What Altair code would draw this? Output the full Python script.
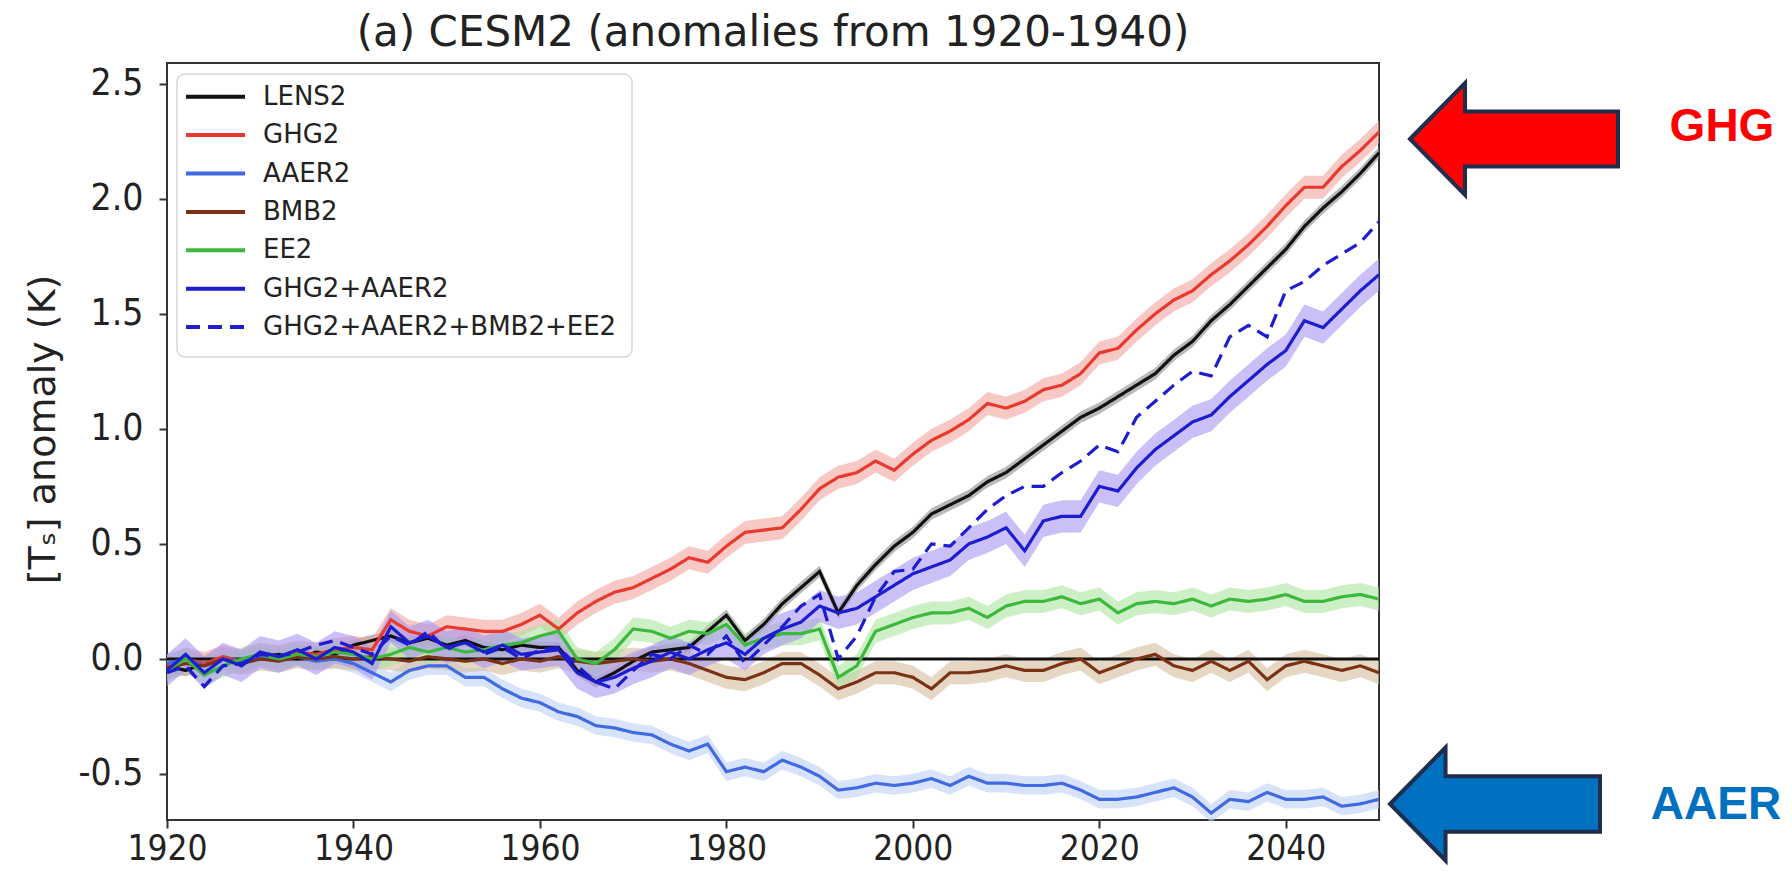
import altair as alt
import pandas as pd

years = list(range(1920, 2051, 2))

series_names = ["LENS2", "GHG2", "AAER2", "BMB2", "EE2", "GHG2+AAER2", "GHG2+AAER2+BMB2+EE2"]

lens2 = [-0.03, -0.05, -0.02, 0.0, -0.02, 0.01, 0.02, 0.0, 0.03, 0.02,
         0.06, 0.08, 0.10, 0.07, 0.09, 0.06, 0.08, 0.05, 0.04, 0.06,
         0.05, 0.05, -0.05, -0.10, -0.06, -0.01, 0.03, 0.04, 0.05, 0.12,
         0.19, 0.08, 0.15, 0.24, 0.31, 0.38, 0.20, 0.32, 0.41, 0.49,
         0.55, 0.63, 0.67, 0.71, 0.77, 0.81, 0.87, 0.93, 0.99, 1.05,
         1.09, 1.14, 1.19, 1.24, 1.32, 1.38, 1.47, 1.54, 1.62, 1.70,
         1.78, 1.88, 1.96, 2.03, 2.11, 2.20]
ghg2 = [-0.03, 0.0, -0.02, 0.01, -0.01, 0.02, 0.01, 0.03, 0.02, 0.04,
        0.05, 0.04, 0.17, 0.12, 0.10, 0.14, 0.13, 0.12, 0.12, 0.15,
        0.19, 0.13, 0.20, 0.25, 0.29, 0.31, 0.35, 0.39, 0.44, 0.42,
        0.49, 0.55, 0.56, 0.57, 0.65, 0.74, 0.79, 0.81, 0.86, 0.82,
        0.89, 0.95, 0.99, 1.04, 1.11, 1.09, 1.12, 1.17, 1.19, 1.24,
        1.33, 1.35, 1.43, 1.50, 1.56, 1.60, 1.67, 1.73, 1.80, 1.88,
        1.97, 2.05, 2.05, 2.14, 2.21, 2.29]
aaer2 = [-0.02, 0.0, -0.03, 0.0, -0.01, 0.01, 0.0, 0.01, -0.01, 0.0,
         -0.02, -0.06, -0.10, -0.05, -0.03, -0.03, -0.08, -0.08, -0.13, -0.17,
         -0.19, -0.23, -0.25, -0.29, -0.30, -0.32, -0.33, -0.37, -0.40, -0.37,
         -0.49, -0.47, -0.49, -0.44, -0.47, -0.51, -0.57, -0.56, -0.54, -0.55,
         -0.54, -0.52, -0.55, -0.51, -0.54, -0.54, -0.55, -0.55, -0.54, -0.57,
         -0.61, -0.61, -0.60, -0.58, -0.56, -0.60, -0.67, -0.61, -0.62, -0.58,
         -0.61, -0.61, -0.60, -0.64, -0.63, -0.61]
bmb2 = [-0.04, -0.02, -0.03, 0.0, -0.02, 0.0, -0.01, 0.01, 0.0, 0.01,
        0.0, 0.01, 0.0, -0.01, 0.01, 0.0, -0.01, 0.0, -0.02, 0.0,
        -0.01, 0.01, -0.01, -0.02, -0.01, 0.0, -0.01, 0.0, -0.02, -0.05,
        -0.08, -0.09, -0.06, -0.02, -0.02, -0.07, -0.13, -0.10, -0.06, -0.06,
        -0.08, -0.13, -0.06, -0.06, -0.05, -0.03, -0.05, -0.05, -0.02, 0.0,
        -0.06, -0.03, 0.0, 0.02, -0.03, -0.05, -0.01, -0.05, -0.01, -0.09,
        -0.03, -0.01, -0.03, -0.05, -0.03, -0.06]
ee2 = [-0.05, 0.0, -0.07, -0.03, 0.0, 0.02, 0.0, 0.02, 0.01, 0.03,
       0.02, 0.0, 0.02, 0.05, 0.03, 0.05, 0.03, 0.04, 0.06, 0.07,
       0.10, 0.12, 0.0, -0.02, 0.04, 0.13, 0.12, 0.09, 0.12, 0.11,
       0.15, 0.06, 0.09, 0.11, 0.11, 0.13, -0.08, -0.03, 0.12, 0.15,
       0.18, 0.20, 0.20, 0.22, 0.18, 0.23, 0.25, 0.25, 0.27, 0.24,
       0.26, 0.20, 0.24, 0.25, 0.24, 0.26, 0.23, 0.26, 0.25, 0.26,
       0.28, 0.25, 0.25, 0.27, 0.28, 0.26]
ghg_aaer = [-0.05, 0.02, -0.06, 0.0, -0.03, 0.03, 0.01, 0.04, 0.0, 0.05,
            0.03, -0.02, 0.14, 0.07, 0.10, 0.05, 0.07, 0.03, 0.06, 0.02,
            0.03, 0.04, -0.06, -0.10, -0.08, -0.04, -0.01, 0.03, 0.0, 0.04,
            0.07, 0.02, 0.09, 0.13, 0.16, 0.23, 0.20, 0.22, 0.27, 0.32,
            0.37, 0.40, 0.43, 0.50, 0.53, 0.57, 0.47, 0.60, 0.62, 0.62,
            0.75, 0.73, 0.83, 0.91, 0.97, 1.03, 1.06, 1.14, 1.21, 1.28,
            1.34, 1.47, 1.44, 1.52, 1.60, 1.67]
all_forc = [-0.06, -0.03, -0.12, -0.03, -0.02, 0.02, 0.01, 0.03, 0.06, 0.08,
            0.05, 0.02, 0.10, 0.06, 0.12, 0.04, 0.08, 0.02, 0.05, 0.0,
            0.04, 0.05, -0.03, -0.10, -0.13, -0.05, 0.02, 0.0, 0.06, 0.02,
            0.10, -0.02, 0.06, 0.14, 0.23, 0.28, 0.0, 0.10, 0.27, 0.38,
            0.39, 0.50, 0.49, 0.57, 0.65, 0.71, 0.75, 0.75, 0.81, 0.86,
            0.93, 0.90, 1.05, 1.12, 1.19, 1.25, 1.23, 1.40, 1.45, 1.40,
            1.60, 1.64, 1.71, 1.76, 1.81, 1.90]

# half-width of the shaded ensemble spread (K), per series
spread = [0.025, 0.05, 0.04, 0.05, 0.05, 0.07, 0.0]

line_colors = ["#111111", "#E8392E", "#4169E1", "#7B3214", "#3CB83C", "#1C1CD0", "#1C1CD0"]
band_colors = ["#8A8A8A", "#F2A39C", "#BBD0F6", "#D6BC9E", "#ACE59E", "#A994F2", "#FFFFFF"]
dashes = [[1, 0], [1, 0], [1, 0], [1, 0], [1, 0], [1, 0], [14, 8]]

x_ticks = [1920, 1940, 1960, 1980, 2000, 2020, 2040]
y_ticks = [-0.5, 0.0, 0.5, 1.0, 1.5, 2.0, 2.5]

values = [lens2, ghg2, aaer2, bmb2, ee2, ghg_aaer, all_forc]
rows = []
for name, vals, sp in zip(series_names, values, spread):
    for yr, v in zip(years, vals):
        rows.append({"year": yr, "value": v, "series": name, "lo": v - sp, "hi": v + sp, "band": sp > 0})
df = pd.DataFrame(rows)
legend_df = pd.DataFrame({"series": series_names, "idx": list(range(len(series_names)))})

W, H = 1212, 757
xscale = alt.Scale(domain=[1920, 2050], nice=False, zero=False)
yscale = alt.Scale(domain=[-0.7, 2.59], nice=False, zero=False)
color_scale = alt.Scale(domain=series_names, range=line_colors)
dash_scale = alt.Scale(domain=series_names, range=dashes)

base = alt.Chart(df)

bands = base.transform_filter("datum.band").mark_area(opacity=0.6).encode(
    x=alt.X("year:Q", scale=xscale),
    y=alt.Y("lo:Q", scale=yscale),
    y2="hi:Q",
    fill=alt.Fill("series:N", scale=alt.Scale(domain=series_names, range=band_colors), legend=None),
    detail="series:N",
)

zero = alt.Chart(pd.DataFrame({"z": [0.0]})).mark_rule(color="#111111", strokeWidth=3).encode(
    y=alt.Y("z:Q", scale=yscale)
)

lines = base.mark_line(strokeWidth=3.2).encode(
    x=alt.X("year:Q", scale=xscale,
            axis=alt.Axis(values=x_ticks, format="d", title=None, labelFlush=False)),
    y=alt.Y("value:Q", scale=yscale,
            axis=alt.Axis(values=y_ticks, title="[Tₛ] anomaly (K)", labelFlush=False,
                          titleX=-124, titleY=366, titleAngle=270, titleBaseline="middle",
                          titleAlign="center",
                          labelExpr="replace(format(datum.value, '.1f'), '\u2212', '-')")),
    color=alt.Color("series:N", scale=color_scale, legend=None),
    strokeDash=alt.StrokeDash("series:N", scale=dash_scale, legend=None),
    order=alt.Order("year:Q"),
)

main = alt.layer(bands, zero, lines)

# legend drawn from the series list
one = pd.DataFrame({"a": [1]})
leg_box = alt.Chart(one).mark_rect(
    fill="white", fillOpacity=0.85, stroke="#D8D8D8", strokeWidth=1.5, cornerRadius=8
).encode(x=alt.value(10), x2=alt.value(465), y=alt.value(11), y2=alt.value(294))

leg_y = alt.Y("idx:Q", scale=alt.Scale(domain=[0, 6], range=[33.7, 264.1]), axis=None)
leg_sym = alt.Chart(legend_df).mark_rule(strokeWidth=4).encode(
    x=alt.value(19), x2=alt.value(78), y=leg_y,
    color=alt.Color("series:N", scale=color_scale, legend=None),
    strokeDash=alt.StrokeDash("series:N", scale=dash_scale, legend=None),
)
leg_txt = alt.Chart(legend_df).mark_text(
    align="left", baseline="middle", font="DejaVu Sans", fontSize=26, color="#222222"
).encode(x=alt.value(96), y=leg_y, text="series:N")

legend = alt.layer(leg_box, leg_sym, leg_txt)

arrow_path = "M-1,0 L-0.471,-0.538 L-0.471,-0.264 L1,-0.264 L1,0.264 L-0.471,0.264 L-0.471,0.538 Z"

ghg_arrow = alt.Chart(one).mark_point(
    shape=arrow_path, size=208 * 208, filled=True, fill="#FF0000", stroke="#1F2E4E",
    strokeWidth=4, opacity=1, fillOpacity=1, strokeOpacity=1, strokeJoin="miter", clip=False
).encode(x=alt.value(1347), y=alt.value(76))

aaer_arrow = alt.Chart(one).mark_point(
    shape=arrow_path, size=210 * 210, filled=True, fill="#0070C0", stroke="#1F2E4E",
    strokeWidth=4, opacity=1, fillOpacity=1, strokeOpacity=1, strokeJoin="miter", clip=False
).encode(x=alt.value(1328), y=alt.value(741))

ghg_text = alt.Chart(one).mark_text(
    text="GHG", font="Liberation Sans", fontWeight="bold", fontSize=46, color="#FF0000",
    align="center", baseline="middle", clip=False
).encode(x=alt.value(1555), y=alt.value(64))

aaer_text = alt.Chart(one).mark_text(
    text="AAER", font="Liberation Sans", fontWeight="bold", fontSize=46, color="#0070C0",
    align="center", baseline="middle", clip=False
).encode(x=alt.value(1549), y=alt.value(742))

chart = alt.layer(main, legend, ghg_arrow, aaer_arrow, ghg_text, aaer_text).resolve_scale(
    y="independent"
).properties(
    width=W, height=H,
    title=alt.TitleParams("(a) CESM2 (anomalies from 1920-1940)", fontSize=42, font="DejaVu Sans",
                          fontWeight="normal", color="#222222", offset=8),
    autosize=alt.AutoSizeParams(type="none"),
    padding={"left": 159, "top": 55, "right": 405, "bottom": 51},
).configure_view(
    stroke="#333333", strokeWidth=2
).configure_axis(
    grid=False, domain=False, tickColor="#333333", tickWidth=2, tickSize=8,
    labelFont="DejaVu Sans Condensed", labelFontSize=37, labelColor="#222222",
    titleFont="DejaVu Sans", titleFontSize=38, titleFontWeight="normal", titleColor="#222222",
).configure_axisX(
    labelPadding=3, labelFontSize=35
).configure_axisY(
    labelPadding=16
)

chart.save("out.html", embed_options={"renderer": "svg", "actions": False})
